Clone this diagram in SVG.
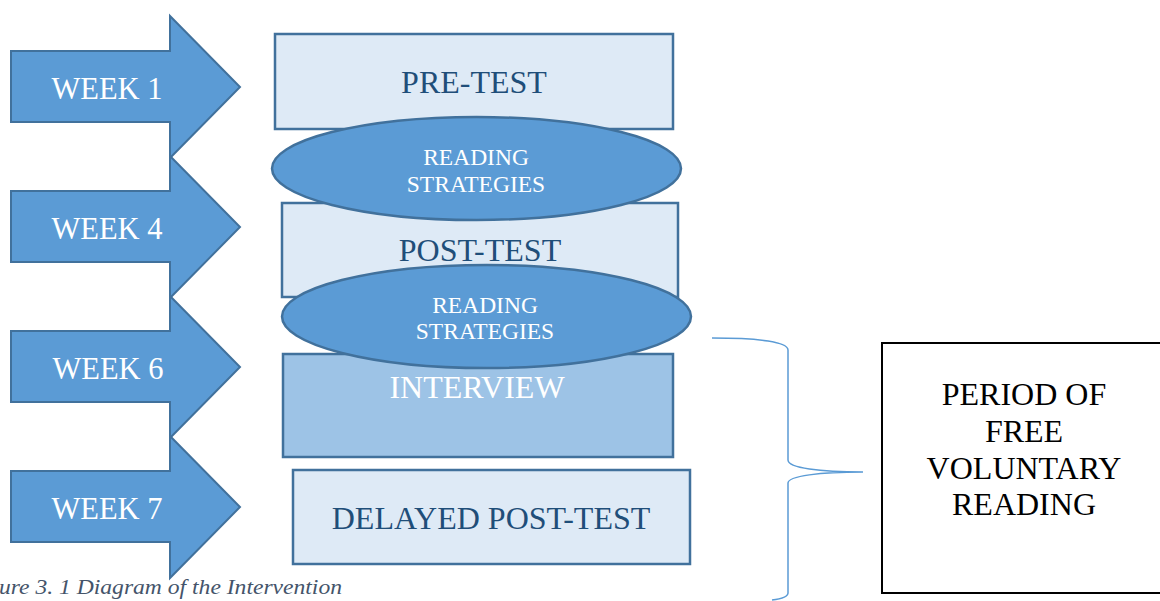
<svg xmlns="http://www.w3.org/2000/svg" width="1160" height="601" viewBox="0 0 1160 601">
<style>
.arrow{fill:#5B9BD5;stroke:#41719C;stroke-width:2}
.box{fill:#DEEAF6;stroke:#41719C;stroke-width:2.5}
.boxd{fill:#9DC3E6;stroke:#41719C;stroke-width:2.5}
.ell{fill:#5B9BD5;stroke:#41719C;stroke-width:2.5}
.t{font-family:"Liberation Serif","Times New Roman",serif;text-anchor:middle}
.wk{font-size:30.5px;fill:#FFFFFF}
.bx{font-size:32px;fill:#1F4E79}
.el{font-size:23.5px;fill:#FFFFFF}
</style>
<rect width="1160" height="601" fill="#FFFFFF"/>
<g id="week1">
<polygon class="arrow" points="11,51 170,51 170,16 240,87 170,158 170,122 11,122"/>
<text class="t wk" x="107" y="99">WEEK 1</text>
</g>
<g id="week4">
<polygon class="arrow" points="11,191 170,191 170,156 240,227 170,298 170,262 11,262"/>
<text class="t wk" x="107" y="239">WEEK 4</text>
</g>
<g id="week6">
<polygon class="arrow" points="11,331 170,331 170,296 240,367 170,438 170,402 11,402"/>
<text class="t wk" x="108" y="379">WEEK 6</text>
</g>
<g id="week7">
<polygon class="arrow" points="11,471 170,471 170,436 240,507 170,578 170,542 11,542"/>
<text class="t wk" x="107" y="519">WEEK 7</text>
</g>
<g id="pretest">
<rect class="box" x="275" y="34" width="398" height="95"/>
<text class="t bx" x="474" y="93">PRE-TEST</text>
</g>
<g id="posttest">
<rect class="box" x="282" y="203" width="396" height="94"/>
<text class="t bx" x="480" y="261">POST-TEST</text>
</g>
<g id="strategies1">
<ellipse class="ell" cx="476.5" cy="168.5" rx="204.5" ry="51.5"/>
<text class="t el" x="476" y="165">READING</text>
<text class="t el" x="476" y="192">STRATEGIES</text>
</g>
<g id="interview">
<rect class="boxd" x="283" y="354" width="390" height="103"/>
<text class="t" x="477" y="398" style="font-size:32px;fill:#FFFFFF">INTERVIEW</text>
</g>
<g id="strategies2">
<ellipse class="ell" cx="486.5" cy="316.5" rx="204.5" ry="51.5"/>
<text class="t el" x="485" y="313">READING</text>
<text class="t el" x="485" y="339">STRATEGIES</text>
</g>
<g id="delayed">
<rect class="box" x="293" y="470" width="397" height="94"/>
<text class="t bx" x="491" y="529">DELAYED POST-TEST</text>
</g>
<g id="connectors">
<path d="M712,338 C760,338 788,342 788,350 L788,460 C788,468 820,472 863,472 C820,472 788,476 788,483 L788,593 C788,597 780,599 772,600" fill="none" stroke="#5B9BD5" stroke-width="1.5"/>
</g>
<g id="period">
<rect x="882" y="343" width="290" height="250" fill="#FFFFFF" stroke="#000000" stroke-width="2"/>
<text class="t" x="1024" y="405" style="font-size:32px;fill:#000000">PERIOD OF</text>
<text class="t" x="1024" y="442" style="font-size:32px;fill:#000000">FREE</text>
<text class="t" x="1024" y="479" style="font-size:32px;fill:#000000">VOLUNTARY</text>
<text class="t" x="1024" y="515" style="font-size:32px;fill:#000000">READING</text>
</g>
<text id="caption" x="-1" y="594" textLength="343" lengthAdjust="spacingAndGlyphs" style="font-family:'Liberation Serif','Times New Roman',serif;font-style:italic;font-size:22px;fill:#44546A">ure 3. 1 Diagram of the Intervention</text>
</svg>
